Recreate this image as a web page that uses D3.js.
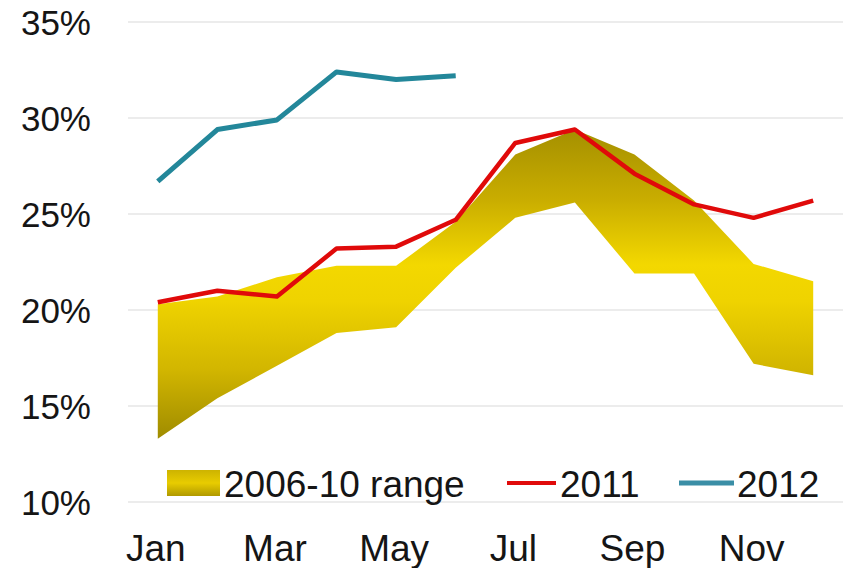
<!DOCTYPE html>
<head>
  <meta charset="utf-8">
  <script src="https://cdn.jsdelivr.net/npm/d3@7"></script>
  <style>
    body { margin:0; background:#fff; }
    text { font-family: "Liberation Sans", Arial, sans-serif; fill:#151515; }
  </style>
</head>
<body>
  <script>
    const months = ["Jan","Feb","Mar","Apr","May","Jun","Jul","Aug","Sep","Oct","Nov","Dec"];
    const monthLabels = ["Jan","Mar","May","Jul","Sep","Nov"];
    const yTicks = [10, 15, 20, 25, 30, 35];

    // 2006-10 range (low / high), %
    const rangeLow  = [13.3, 15.4, 17.1, 18.8, 19.1, 22.2, 24.8, 25.6, 21.9, 21.9, 17.2, 16.6];
    const rangeHigh = [20.3, 20.7, 21.7, 22.3, 22.3, 24.6, 28.1, 29.4, 28.1, 25.7, 22.4, 21.5];
    const s2011 = [20.4, 21.0, 20.7, 23.2, 23.3, 24.7, 28.7, 29.4, 27.1, 25.5, 24.8, 25.7];
    const s2012 = [26.7, 29.4, 29.9, 32.4, 32.0, 32.2];

    let width = 846, height = 568;

    let svg = d3.select("body").append("svg")
      .attr("width", width)
      .attr("height", height);

    let x = d3.scalePoint().domain(months).range([128, 843]).padding(0.5);
    let y = d3.scaleLinear().domain([10, 35]).range([502, 22]);

    // gold gradient for the range band
    let defs = svg.append("defs");
    let grad = defs.append("linearGradient")
      .attr("id", "gold")
      .attr("gradientUnits", "userSpaceOnUse")
      .attr("x1", 0).attr("x2", 0)
      .attr("y1", y(30)).attr("y2", y(13));
    [[0, "#9f8b00"], [0.25, "#c9ad00"], [0.45, "#f3d800"], [0.56, "#efd300"], [0.77, "#d2b600"], [1, "#9b8800"]]
      .forEach(s => grad.append("stop").attr("offset", s[0]).attr("stop-color", s[1]));

    let legGrad = defs.append("linearGradient")
      .attr("id", "goldLeg").attr("x1", 0).attr("x2", 0).attr("y1", 0).attr("y2", 1);
    [[0, "#cdb300"], [0.5, "#e8cc00"], [1, "#b09900"]]
      .forEach(s => legGrad.append("stop").attr("offset", s[0]).attr("stop-color", s[1]));

    // gridlines
    svg.append("g").selectAll("line")
      .data(yTicks)
      .enter().append("line")
      .attr("x1", 128).attr("x2", 843)
      .attr("y1", d => y(d)).attr("y2", d => y(d))
      .attr("stroke", "#d9d9d9")
      .attr("stroke-width", 1.2);

    // y labels
    svg.append("g").selectAll("text")
      .data(yTicks)
      .enter().append("text")
      .attr("x", 91)
      .attr("y", d => y(d))
      .attr("dy", "0.36em")
      .attr("text-anchor", "end")
      .style("font-size", "35px")
      .text(d => d + "%");

    // x labels
    svg.append("g").selectAll("text")
      .data(monthLabels)
      .enter().append("text")
      .attr("x", d => x(d) - 2)
      .attr("y", 561)
      .attr("text-anchor", "middle")
      .style("font-size", "37px")
      .text(d => d);

    // range band
    let area = d3.area()
      .x((d, i) => x(months[i]))
      .y0(d => y(d[0]))
      .y1(d => y(d[1]));

    svg.append("path")
      .datum(rangeLow.map((v, i) => [v, rangeHigh[i]]))
      .attr("d", area)
      .attr("fill", "url(#gold)");

    let line = d3.line()
      .x((d, i) => x(months[i]))
      .y(d => y(d));

    svg.append("path")
      .datum(s2011)
      .attr("d", line)
      .attr("fill", "none")
      .attr("stroke", "#e00a0a")
      .attr("stroke-width", 4.5)
      .attr("stroke-linejoin", "round");

    svg.append("path")
      .datum(s2012)
      .attr("d", line)
      .attr("fill", "none")
      .attr("stroke", "#23879a")
      .attr("stroke-width", 5)
      .attr("stroke-linejoin", "round");

    // legend
    let legend = svg.append("g");
    legend.append("rect")
      .attr("x", 167).attr("y", 470)
      .attr("width", 53).attr("height", 26)
      .attr("fill", "url(#goldLeg)");
    legend.append("text")
      .attr("x", 224).attr("y", 484).attr("dy", "0.36em")
      .style("font-size", "37px")
      .text("2006-10 range");
    legend.append("line")
      .attr("x1", 507).attr("x2", 556).attr("y1", 483).attr("y2", 483)
      .attr("stroke", "#e00a0a").attr("stroke-width", 4);
    legend.append("text")
      .attr("x", 560).attr("y", 484).attr("dy", "0.36em")
      .style("font-size", "37px")
      .text("2011");
    legend.append("line")
      .attr("x1", 679).attr("x2", 734).attr("y1", 483).attr("y2", 483)
      .attr("stroke", "#3a8ea6").attr("stroke-width", 5);
    legend.append("text")
      .attr("x", 737).attr("y", 484).attr("dy", "0.36em")
      .style("font-size", "37px")
      .text("2012");
  </script>
</body>
